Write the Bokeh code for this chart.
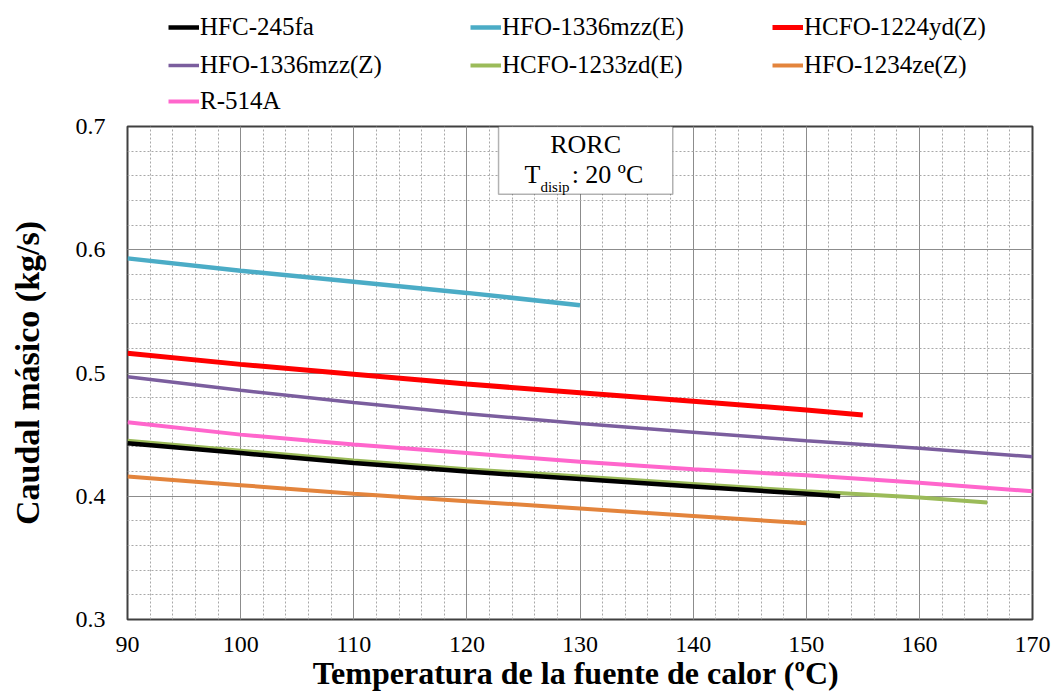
from bokeh.plotting import figure
from bokeh.layouts import column
from bokeh.models import Legend, LegendItem, BoxAnnotation, Label, FixedTicker, PrintfTickFormatter
from bokeh.embed import file_html
from bokeh.resources import INLINE

# ---- data ----
x_ticks = [90, 100, 110, 120, 130, 140, 150, 160, 170]
y_ticks = [0.3, 0.4, 0.5, 0.6, 0.7]

t_245fa = [90, 100, 110, 120, 130, 140, 150, 153]
m_245fa = [0.443, 0.435, 0.427, 0.420, 0.414, 0.408, 0.402, 0.400]

t_1336E = [90, 100, 110, 120, 130]
m_1336E = [0.593, 0.583, 0.574, 0.565, 0.555]

t_1224Z = [90, 100, 110, 120, 130, 140, 150, 155]
m_1224Z = [0.516, 0.507, 0.499, 0.491, 0.484, 0.477, 0.470, 0.466]

t_1336Z = [90, 100, 110, 120, 130, 140, 150, 160, 170]
m_1336Z = [0.497, 0.486, 0.476, 0.467, 0.459, 0.452, 0.445, 0.439, 0.432]

t_1233E = [90, 100, 110, 120, 130, 140, 150, 160, 166]
m_1233E = [0.445, 0.437, 0.429, 0.422, 0.416, 0.410, 0.404, 0.399, 0.395]

t_1234Z = [90, 100, 110, 120, 130, 140, 150]
m_1234Z = [0.416, 0.409, 0.402, 0.396, 0.390, 0.384, 0.378]

t_514A = [90, 100, 110, 120, 130, 140, 150, 160, 170]
m_514A = [0.460, 0.450, 0.442, 0.435, 0.428, 0.422, 0.417, 0.411, 0.404]

names = ["HFC-245fa", "HFO-1336mzz(E)", "HCFO-1224yd(Z)",
         "HFO-1336mzz(Z)", "HCFO-1233zd(E)", "HFO-1234ze(Z)", "R-514A"]
series = [(t_245fa, m_245fa), (t_1336E, m_1336E), (t_1224Z, m_1224Z),
          (t_1336Z, m_1336Z), (t_1233E, m_1233E), (t_1234Z, m_1234Z), (t_514A, m_514A)]
colors = ["#000000", "#4BACC6", "#FF0000", "#7B5E9E", "#9BBB59", "#E3843C", "#FF66CC"]
widths = [4.5, 4.5, 5, 3.5, 4, 4, 4]
draw_order = [1, 2, 3, 6, 4, 5, 0]

FONT = "Liberation Serif"
TOP_H = 114

# ---- legend strip (top); its lines lie outside its own (0,1) range ----
lp = figure(width=1056, height=TOP_H, output_backend="svg", toolbar_location=None,
            x_range=(0, 1), y_range=(0, 1), min_border=0)
lp.axis.visible = False
lp.grid.visible = False
lp.outline_line_color = None
leg_renderers = [lp.line(xs, ys, line_color=c, line_width=w)
                 for (xs, ys), c, w in zip(series, colors, widths)]
rows = [[0, 1, 2], [3, 4, 5], [6]]
row_bottoms = [46, 84, 120]   # canvas y of each legend row's bottom edge
for row, b in zip(rows, row_bottoms):
    items = [LegendItem(label=names[i], renderers=[leg_renderers[i]]) for i in row]
    lg = Legend(items=items, orientation="horizontal", location=(41, TOP_H - b),
                label_text_font=FONT, label_text_font_size="25px", label_text_color="black",
                glyph_width=31, glyph_height=20, label_standoff=1, label_width=270,
                label_height=38, spacing=0, padding=0, margin=0,
                border_line_color=None, background_fill_alpha=0)
    lp.add_layout(lg, "center")

# ---- main chart ----
p = figure(width=1056, height=693 - TOP_H, output_backend="svg", toolbar_location=None,
           x_range=(90, 170), y_range=(0.3, 0.7),
           min_border_left=127, min_border_right=24, min_border_top=126 - TOP_H,
           min_border_bottom=72)
p.background_fill_color = "white"
p.border_fill_color = "white"
p.outline_line_color = "#404040"
p.outline_line_width = 2

p.xaxis.ticker = FixedTicker(ticks=x_ticks, minor_ticks=list(range(90, 171, 2)))
p.yaxis.ticker = FixedTicker(ticks=y_ticks, minor_ticks=[round(0.3 + 0.02 * i, 2) for i in range(21)])
p.yaxis.formatter = PrintfTickFormatter(format="%.1f")

for ax in (p.xaxis[0], p.yaxis[0]):
    ax.axis_line_color = None
    ax.major_tick_out = 0
    ax.major_tick_in = 0
    ax.minor_tick_out = 0
    ax.minor_tick_in = 0
    ax.major_label_text_font = FONT
    ax.major_label_text_font_size = "24px"
    ax.major_label_text_color = "black"
    ax.axis_label_text_font = FONT
    ax.axis_label_text_font_style = "bold"
    ax.axis_label_text_color = "black"

p.xaxis.axis_label = "Temperatura  de la fuente de calor (ºC)"
p.yaxis.axis_label = "Caudal másico (kg/s)"
p.xaxis.axis_label_text_font_size = "32px"
p.yaxis.axis_label_text_font_size = "34px"
p.yaxis.major_label_standoff = 22
p.yaxis.axis_label_standoff = 27
p.xaxis.major_label_standoff = 17
p.xaxis.axis_label_standoff = 0

for g in (p.xgrid[0], p.ygrid[0]):
    g.grid_line_color = "#8c8c8c"
    g.grid_line_width = 1
    g.minor_grid_line_color = "#a8a8a8"
    g.minor_grid_line_dash = "2 2"
    g.minor_grid_line_width = 1

for i in draw_order:
    xs, ys = series[i]
    p.line(xs, ys, line_color=colors[i], line_width=widths[i])

# annotation box
box = BoxAnnotation(left=122.8, right=138.2, top=0.7, bottom=0.645,
                    fill_color="white", fill_alpha=1.0, line_color="black", line_width=1.5)
p.add_layout(box)
p.add_layout(Label(x=130.5, y=0.6855, text="RORC", text_align="center", text_baseline="middle",
                   text_font=FONT, text_font_size="26px", text_color="black"))
p.add_layout(Label(x=125.1, y=0.6612, text="T", text_align="left", text_baseline="middle",
                   text_font=FONT, text_font_size="26px", text_color="black"))
p.add_layout(Label(x=126.5, y=0.6507, text="disip", text_align="left", text_baseline="middle",
                   text_font=FONT, text_font_size="15px", text_color="black"))
p.add_layout(Label(x=129.26, y=0.6612, text=":  20 ºC", text_align="left", text_baseline="middle",
                   text_font=FONT, text_font_size="26px", text_color="black"))

layout = column(lp, p, spacing=0)
open("out.html", "w").write(file_html(layout, INLINE))
